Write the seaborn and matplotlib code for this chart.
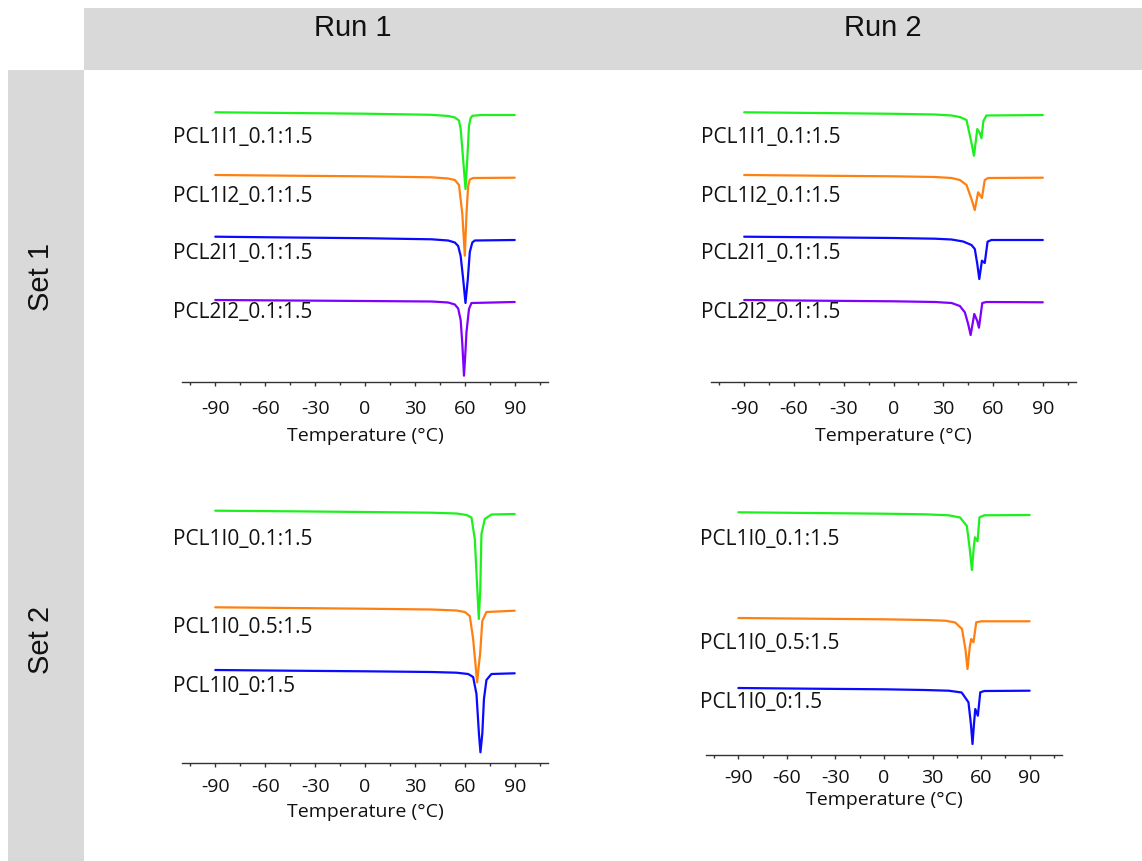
import matplotlib
matplotlib.use("Agg")
import matplotlib.pyplot as plt
import seaborn as sns
import numpy as np
from matplotlib.patches import Rectangle
from matplotlib.ticker import MultipleLocator

sns.set_theme(style="white")
plt.rcParams['font.family'] = ['Open Sans', 'DejaVu Sans']
plt.rcParams['axes.unicode_minus'] = False

# ---------------- data (temperature in °C, heat flow in a.u., stacked) -------------
# Set 1, Run 1
s1r1_labels = ["PCL1I1_0.1:1.5", "PCL1I2_0.1:1.5", "PCL2I1_0.1:1.5", "PCL2I2_0.1:1.5"]
s1r1_g_T = [-90, -45, 0, 40, 50, 54, 56.5, 57.5, 58.5, 60.4, 61.5, 62.5, 63.5, 64.5, 70, 90]
s1r1_g_H = [26.97, 26.90, 26.83, 26.72, 26.6, 26.45, 26.15, 25.3, 23.3, 19.3, 22.3, 25.6, 26.4, 26.62, 26.7, 26.7]
s1r1_o_T = [-90, -45, 0, 40, 50, 54, 56.5, 58.5, 60, 61, 62, 63, 65, 90]
s1r1_o_H = [20.7, 20.63, 20.57, 20.47, 20.35, 20.2, 19.7, 16.8, 12.63, 16.8, 19.6, 20.25, 20.4, 20.43]
s1r1_b_T = [-90, -45, 0, 40, 50, 54, 56, 57.5, 59, 60.4, 61.8, 63, 64.5, 66, 90]
s1r1_b_H = [14.53, 14.45, 14.38, 14.27, 14.15, 13.95, 13.6, 12.6, 10.3, 7.9, 10.3, 13.0, 13.95, 14.15, 14.2]
s1r1_p_T = [-90, -45, 0, 40, 50, 54, 56, 57.5, 58.5, 59.5, 60.3, 61, 62.5, 64, 90]
s1r1_p_H = [8.2, 8.15, 8.1, 8.05, 7.95, 7.75, 7.35, 6.2, 3.8, 0.63, 2.8, 5.0, 7.3, 7.9, 8.0]

# Set 1, Run 2
s1r2_labels = ["PCL1I1_0.1:1.5", "PCL1I2_0.1:1.5", "PCL2I1_0.1:1.5", "PCL2I2_0.1:1.5"]
s1r2_g_T = [-90, -45, 0, 25, 35, 40, 44, 46.5, 48.5, 50.5, 52, 53, 54.2, 56, 90]
s1r2_g_H = [26.97, 26.9, 26.82, 26.75, 26.65, 26.5, 26.2, 24.3, 22.63, 25.3, 24.9, 24.37, 26.1, 26.65, 26.7]
s1r2_o_T = [-90, -45, 0, 25, 35, 40, 44, 47, 49, 51, 53.3, 55, 57, 90]
s1r2_o_H = [20.7, 20.63, 20.57, 20.5, 20.4, 20.2, 19.7, 18.3, 17.2, 18.97, 18.4, 20.2, 20.4, 20.43]
s1r2_b_T = [-90, -45, 0, 25, 35, 42, 47, 49, 50.5, 51.7, 53.3, 55, 56.7, 59, 90]
s1r2_b_H = [14.53, 14.47, 14.4, 14.33, 14.25, 14.05, 13.7, 13.3, 11.8, 10.3, 12.13, 11.9, 14.03, 14.2, 14.2]
s1r2_p_T = [-90, -45, 0, 25, 35, 40, 43, 45, 46.5, 48.7, 50.5, 51.5, 53.5, 56, 90]
s1r2_p_H = [8.2, 8.13, 8.07, 8.0, 7.9, 7.6, 6.97, 5.8, 4.7, 6.8, 6.1, 5.43, 7.9, 8.0, 7.97]

# Set 2, Run 1
s2r1_labels = ["PCL1I0_0.1:1.5", "PCL1I0_0.5:1.5", "PCL1I0_0:1.5"]
s2r1_g_T = [-90, -45, 0, 40, 55, 61, 64, 66, 67.5, 68.4, 69.3, 70, 72, 76, 90]
s2r1_g_H = [25.23, 25.17, 25.1, 25.03, 24.95, 24.8, 24.55, 22.4, 17.4, 14.4, 17.4, 22.9, 24.4, 24.85, 24.9]
s2r1_o_T = [-90, -45, 0, 40, 55, 60, 63, 65, 67.4, 68.5, 69.2, 70.5, 73, 90]
s2r1_o_H = [15.57, 15.5, 15.43, 15.35, 15.25, 15.1, 14.7, 12.4, 8.07, 9.9, 10.9, 14.2, 15.1, 15.23]
s2r1_b_T = [-90, -45, 0, 40, 55, 62, 65, 67, 68.5, 69.4, 70.5, 71.5, 73, 76, 90]
s2r1_b_H = [9.3, 9.23, 9.17, 9.1, 9.03, 8.9, 8.6, 6.9, 2.9, 1.07, 2.9, 6.4, 8.3, 8.9, 8.97]

# Set 2, Run 2
s2r2_labels = ["PCL1I0_0.1:1.5", "PCL1I0_0.5:1.5", "PCL1I0_0:1.5"]
s2r2_g_T = [-90, -45, 0, 25, 40, 47, 51.2, 53, 54.3, 55.5, 56.2, 57.8, 59, 62, 90]
s2r2_g_H = [24.27, 24.2, 24.13, 24.07, 23.97, 23.75, 22.9, 20.6, 18.5, 20.8, 21.77, 21.37, 23.77, 23.97, 24.0]
s2r2_o_T = [-90, -45, 0, 25, 38, 44, 48.2, 50.3, 51.6, 53, 53.9, 55.3, 57, 60, 90]
s2r2_o_H = [13.7, 13.63, 13.57, 13.5, 13.43, 13.25, 12.6, 10.6, 8.6, 10.8, 11.6, 11.27, 13.27, 13.37, 13.37]
s2r2_b_T = [-90, -45, 0, 25, 40, 48, 52.2, 53.7, 54.7, 55.6, 56.4, 58, 59.5, 62, 90]
s2r2_b_H = [6.7, 6.63, 6.57, 6.5, 6.43, 6.25, 5.27, 3.1, 1.1, 3.1, 4.6, 3.93, 6.27, 6.4, 6.43]

run_titles = ["Run 1", "Run 2"]
set_titles = ["Set 1", "Set 2"]
x_ticks = [-90, -60, -30, 0, 30, 60, 90]
x_label = "Temperature (°C)"

# ---------------- styling ----------------
C_GREEN, C_ORANGE, C_BLUE, C_PURPLE = "#1ef01e", "#ff8012", "#0a0aff", "#8000ff"
BAND = "#d9d9d9"
W, H = 1142, 862

fig = plt.figure(figsize=(W / 100, H / 100), dpi=100)

# header bands
fig.add_artist(Rectangle((84 / W, 1 - 70.5 / H), 1 - 84 / W, 61.5 / H,
                         transform=fig.transFigure, color=BAND, lw=0, zorder=0))
fig.add_artist(Rectangle((8 / W, 0), 76 / W, 1 - 70.5 / H,
                         transform=fig.transFigure, color=BAND, lw=0, zorder=0))
for txt, xc in zip(run_titles, [353, 883]):
    fig.text(xc / W, 1 - 28 / H, txt, ha="center", va="center", fontsize=21,
             family="Liberation Sans", color="#111111")
for txt, yc in zip(set_titles, [277, 640]):
    fig.text(41 / W, 1 - yc / H, txt, ha="center", va="center", fontsize=21,
             rotation=90, family="Liberation Sans", color="#111111")


def make_ax(left_px, right_px, spine_px, tick_pad, label_pad):
    height_px = 300
    ax = fig.add_axes([left_px / W, (H - spine_px) / H,
                       (right_px - left_px) / W, height_px / H])
    ax.set_facecolor("none")
    ax.set_xlim(-110, 110)
    ax.set_ylim(0, 30)
    for s in ["top", "right", "left"]:
        ax.spines[s].set_visible(False)
    ax.spines["bottom"].set_color("#333333")
    ax.spines["bottom"].set_linewidth(1.0)
    ax.set_yticks([])
    ax.set_xticks(x_ticks)
    ax.xaxis.set_minor_locator(MultipleLocator(15))
    ax.tick_params(axis="x", which="major", direction="out", length=3, width=1,
                   color="#333333", pad=tick_pad, labelsize=14, labelcolor="#111111")
    ax.tick_params(axis="x", which="minor", direction="out", length=2.5, width=1,
                   color="#333333")
    ax.xaxis.set_tick_params(bottom=True, which="both")
    ax.set_xlabel(x_label, fontsize=14, color="#111111", labelpad=label_pad)
    ax.set_ylabel("")
    return ax


panels = [
    # (left, right, spine, tick pad, label pad, curves, labels, label_x, label_ys)
    (182, 548, 383, 9.5, 6,
     [(s1r1_g_T, s1r1_g_H, C_GREEN), (s1r1_o_T, s1r1_o_H, C_ORANGE),
      (s1r1_b_T, s1r1_b_H, C_BLUE), (s1r1_p_T, s1r1_p_H, C_PURPLE)],
     s1r1_labels, -115.5, [24.5, 18.6, 12.9, 7.0]),
    (711, 1076, 383, 9.5, 6,
     [(s1r2_g_T, s1r2_g_H, C_GREEN), (s1r2_o_T, s1r2_o_H, C_ORANGE),
      (s1r2_b_T, s1r2_b_H, C_BLUE), (s1r2_p_T, s1r2_p_H, C_PURPLE)],
     s1r2_labels, -116, [24.5, 18.6, 12.9, 7.0]),
    (182, 548, 764, 7, 5,
     [(s2r1_g_T, s2r1_g_H, C_GREEN), (s2r1_o_T, s2r1_o_H, C_ORANGE),
      (s2r1_b_T, s2r1_b_H, C_BLUE)],
     s2r1_labels, -115.5, [22.4, 13.7, 7.7]),
    (706, 1062, 756, 6.5, 3,
     [(s2r2_g_T, s2r2_g_H, C_GREEN), (s2r2_o_T, s2r2_o_H, C_ORANGE),
      (s2r2_b_T, s2r2_b_H, C_BLUE)],
     s2r2_labels, -113.5, [21.6, 11.2, 5.3]),
]

for left, right, spine, tpad, lpad, curves, labels, lx, lys in panels:
    ax = make_ax(left, right, spine, tpad, lpad)
    for T, Hf, col in curves:
        sns.lineplot(x=T, y=Hf, color=col, linewidth=1.6, ax=ax, sort=False,
                     estimator=None)
    for lab, ly in zip(labels, lys):
        ax.text(lx, ly, lab, ha="left", va="center", fontsize=15,
                color="#111111", clip_on=False)
    ax.set_ylim(0, 30)

fig.savefig("out.png", dpi=100)
